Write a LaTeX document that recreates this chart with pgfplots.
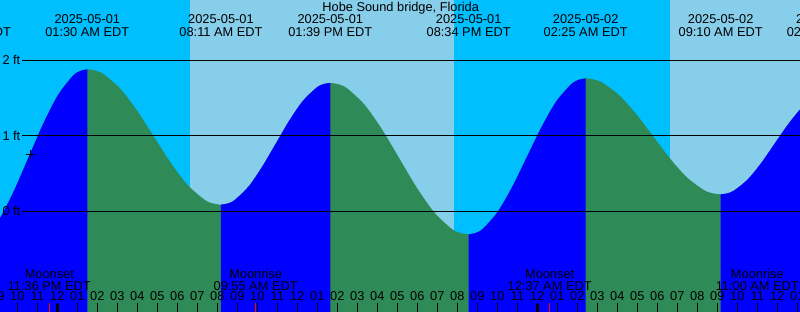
\documentclass[border=0pt]{standalone}
\usepackage{fontspec}
\setmainfont{Liberation Sans}
\usepackage{pgfplots}
\pgfplotsset{compat=1.18}
\definecolor{night}{RGB}{0,191,255}
\definecolor{day}{RGB}{135,206,235}
\definecolor{rise}{RGB}{0,0,255}
\definecolor{fall}{RGB}{46,139,87}
\newcommand{\lab}{\fontsize{12.8}{14}\selectfont}
\begin{document}
\begin{tikzpicture}
\begin{axis}[
  at={(0,0)}, anchor=south west,
  scale only axis, width=800pt, height=312pt,
  xmin=-2.865, xmax=37.135, ymin=-1.334, ymax=2.799,
  axis on top,
  axis line style={draw=none},
  axis background/.style={fill=night},
  xtick={-2,...,37}, xticklabels={}, ytick=\empty,
  xtick pos=bottom, tick align=inside, major tick length=8.5pt,
  tick style={black, line width=1pt},
  clip=true,
]
% daylight bands
\addplot[fill=day, draw=none] coordinates {(6.635,-2) (6.635,3) (19.835,3) (19.835,-2)};
\addplot[fill=day, draw=none] coordinates {(30.635,-2) (30.635,3) (40,3) (40,-2)};
% whole tide curve (hours since 2025-05-01 00:00, feet): falling colour underneath
\addplot[fill=fall, draw=none, smooth] coordinates {
(-4.375,-0.447) (-4.008,-0.425) (-3.636,-0.358) (-2.903,-0.106) (-2.169,0.271) (-1.435,0.717) (-0.701,1.162) (0.033,1.539) (0.766,1.791) (1.133,1.858) (1.5,1.88)
(1.918,1.863) (2.335,1.812) (3.171,1.618) (4.006,1.327) (4.842,0.984) (5.677,0.641) (6.512,0.350) (7.348,0.156) (7.765,0.105) (8.183,0.088)
(8.525,0.104) (8.866,0.149) (9.550,0.324) (10.233,0.586) (10.917,0.894) (11.600,1.202) (12.283,1.464) (12.967,1.639) (13.308,1.685) (13.65,1.70)
(14.082,1.681) (14.515,1.624) (15.379,1.406) (16.244,1.081) (17.108,0.698) (17.973,0.314) (18.838,-0.011) (19.702,-0.229) (20.135,-0.286) (20.567,-0.305)
(20.933,-0.285) (21.298,-0.226) (22.029,-0.003) (22.760,0.332) (23.492,0.728) (24.223,1.123) (24.954,1.458) (25.686,1.681) (26.051,1.740) (26.417,1.76)
(26.839,1.745) (27.261,1.702) (28.104,1.535) (28.948,1.286) (29.792,0.993) (30.636,0.699) (31.479,0.450) (32.323,0.283) (32.745,0.240) (33.167,0.225)
(33.505,0.238) (33.843,0.276) (34.519,0.422) (35.195,0.640) (35.871,0.898) (36.547,1.155) (37.223,1.373) (37.899,1.519) (38.237,1.557) (38.575,1.57)
} -- (axis cs:38.575,-2) -- (axis cs:-4.375,-2) -- cycle;
% rising parts
\addplot[fill=rise, draw=none, smooth] coordinates {
(-4.375,-0.447) (-4.008,-0.425) (-3.636,-0.358) (-2.903,-0.106) (-2.169,0.271) (-1.435,0.717) (-0.701,1.162) (0.033,1.539) (0.766,1.791) (1.133,1.858) (1.5,1.88)
} -- (axis cs:1.5,-2) -- (axis cs:-4.375,-2) -- cycle;
\addplot[fill=rise, draw=none, smooth] coordinates {
(8.183,0.088) (8.525,0.104) (8.866,0.149) (9.550,0.324) (10.233,0.586) (10.917,0.894) (11.600,1.202) (12.283,1.464) (12.967,1.639) (13.308,1.685) (13.65,1.70)
} -- (axis cs:13.65,-2) -- (axis cs:8.183,-2) -- cycle;
\addplot[fill=rise, draw=none, smooth] coordinates {
(20.567,-0.305) (20.933,-0.285) (21.298,-0.226) (22.029,-0.003) (22.760,0.332) (23.492,0.728) (24.223,1.123) (24.954,1.458) (25.686,1.681) (26.051,1.740) (26.417,1.76)
} -- (axis cs:26.417,-2) -- (axis cs:20.567,-2) -- cycle;
\addplot[fill=rise, draw=none, smooth] coordinates {
(33.167,0.225) (33.505,0.238) (33.843,0.276) (34.519,0.422) (35.195,0.640) (35.871,0.898) (36.547,1.155) (37.223,1.373) (37.899,1.519) (38.237,1.557) (38.575,1.57)
} -- (axis cs:38.575,-2) -- (axis cs:33.167,-2) -- cycle;
% reference lines
\addplot[black, line width=1pt] coordinates {(-1.765,0) (40,0)};
\addplot[black, line width=1pt] coordinates {(-1.765,1) (40,1)};
\addplot[black, line width=1pt] coordinates {(-1.765,2) (40,2)};
% current time marker
\addplot[only marks, mark=+, mark size=4.5pt, black, line width=1pt] coordinates {(-1.365,0.75)};
% midnight ticks and moon event ticks
\addplot[black, line width=3pt] coordinates {(0,-1.4) (0,-1.222)};
\addplot[black, line width=3pt] coordinates {(24,-1.4) (24,-1.222)};
\addplot[red, line width=1pt] coordinates {(-0.4,-1.4) (-0.4,-1.215)};
\addplot[red, line width=1pt] coordinates {(9.917,-1.4) (9.917,-1.215)};
\addplot[red, line width=1pt] coordinates {(24.617,-1.4) (24.617,-1.215)};
\addplot[red, line width=1pt] coordinates {(35.0,-1.4) (35.0,-1.215)};
% texts
\node[anchor=base, font=\lab] at (axis cs:17.17,2.640) {Hobe Sound bridge, Florida};
\node[anchor=base, font=\lab] at (axis cs:-4.62,2.481) {2025-04-30};
\node[anchor=base, font=\lab] at (axis cs:-4.42,2.322) {07:38 PM EDT};
\node[anchor=base, font=\lab] at (axis cs:1.5,2.481) {2025-05-01};
\node[anchor=base, font=\lab] at (axis cs:1.5,2.322) {01:30 AM EDT};
\node[anchor=base, font=\lab] at (axis cs:8.183,2.481) {2025-05-01};
\node[anchor=base, font=\lab] at (axis cs:8.183,2.322) {08:11 AM EDT};
\node[anchor=base, font=\lab] at (axis cs:13.65,2.481) {2025-05-01};
\node[anchor=base, font=\lab] at (axis cs:13.65,2.322) {01:39 PM EDT};
\node[anchor=base, font=\lab] at (axis cs:20.567,2.481) {2025-05-01};
\node[anchor=base, font=\lab] at (axis cs:20.567,2.322) {08:34 PM EDT};
\node[anchor=base, font=\lab] at (axis cs:26.417,2.481) {2025-05-02};
\node[anchor=base, font=\lab] at (axis cs:26.417,2.322) {02:25 AM EDT};
\node[anchor=base, font=\lab] at (axis cs:33.167,2.481) {2025-05-02};
\node[anchor=base, font=\lab] at (axis cs:33.167,2.322) {09:10 AM EDT};
\node[anchor=base, font=\lab] at (axis cs:38.575,2.481) {2025-05-02};
\node[anchor=base, font=\lab] at (axis cs:38.575,2.322) {02:34 PM EDT};
\node[anchor=west, inner sep=0pt, font=\lab] at (axis cs:-2.75,2) {2 ft};
\node[anchor=west, inner sep=0pt, font=\lab] at (axis cs:-2.75,1) {1 ft};
\node[anchor=west, inner sep=0pt, font=\lab] at (axis cs:-2.75,0) {0 ft};
\node[anchor=base, font=\lab] at (axis cs:-0.4,-0.887) {Moonset};
\node[anchor=base, font=\lab] at (axis cs:-0.4,-1.046) {11:36 PM EDT};
\node[anchor=base, font=\lab] at (axis cs:9.917,-0.887) {Moonrise};
\node[anchor=base, font=\lab] at (axis cs:9.917,-1.046) {09:55 AM EDT};
\node[anchor=base, font=\lab] at (axis cs:24.617,-0.887) {Moonset};
\node[anchor=base, font=\lab] at (axis cs:24.617,-1.046) {12:37 AM EDT};
\node[anchor=base, font=\lab] at (axis cs:35.0,-0.887) {Moonrise};
\node[anchor=base, font=\lab] at (axis cs:35.0,-1.046) {11:00 AM EDT};
\pgfplotsinvokeforeach{-3,...,37}{
  \node[anchor=base, font=\lab] at (axis cs:#1,-1.184) {\pgfmathtruncatemacro{\hr}{mod(#1+11,12)+1}\ifnum\hr<10 0\fi\hr};
}
\end{axis}
\pgfresetboundingbox
\path[use as bounding box] (0,0) rectangle (800pt,312pt);
\end{tikzpicture}
\end{document}
